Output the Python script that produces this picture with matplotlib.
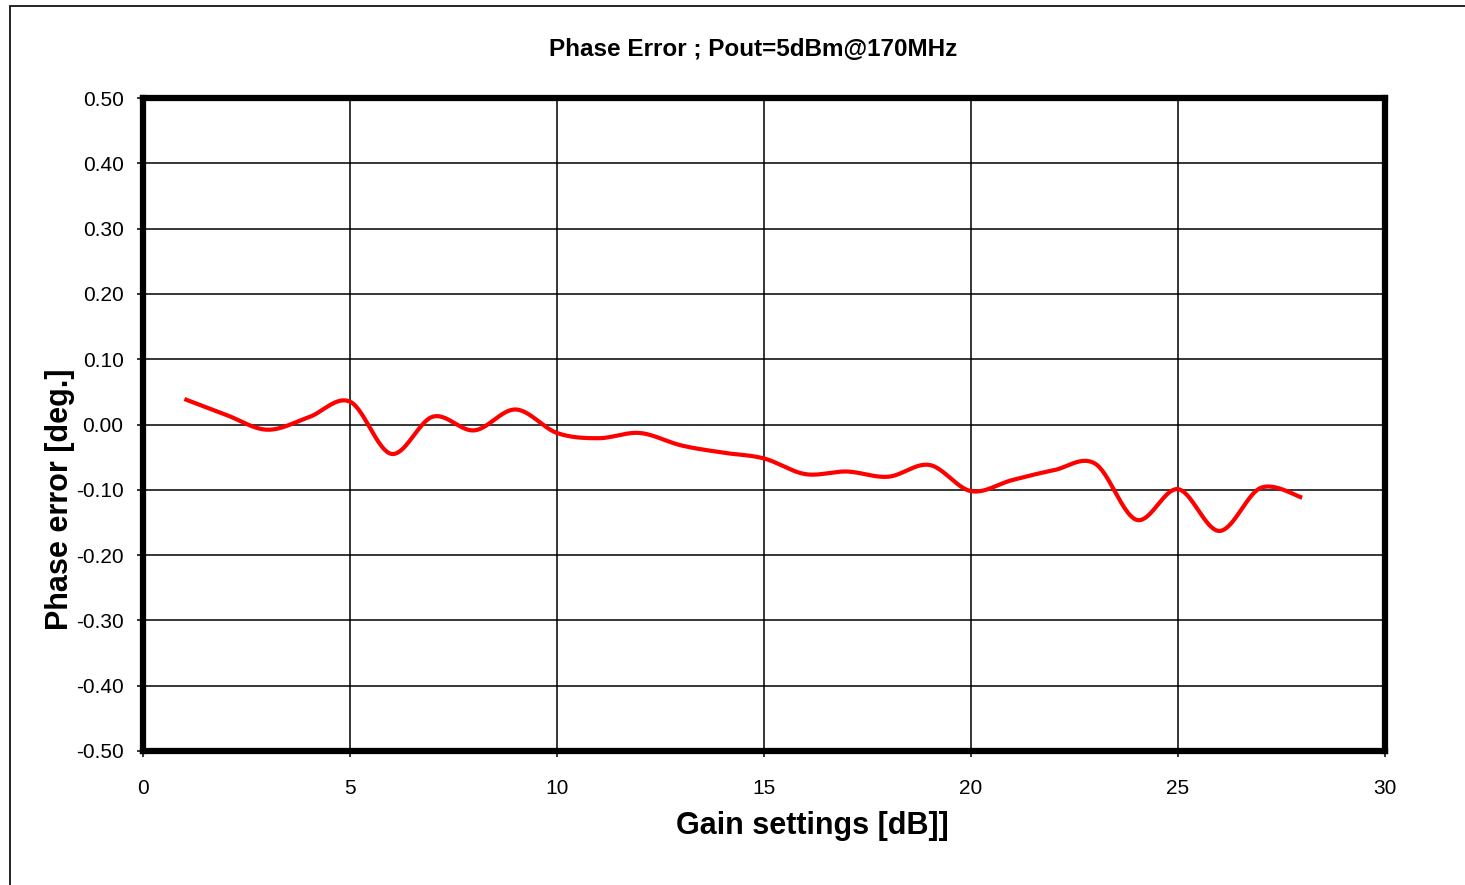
import matplotlib
matplotlib.use("Agg")
import matplotlib.pyplot as plt
from matplotlib.patches import Rectangle
import numpy as np

plt.rcParams["font.family"] = ["Liberation Sans", "DejaVu Sans"]

# Gain setting (dB) vs. measured phase error (deg)
gain_db = [1, 2, 3, 4, 5, 6, 7, 8, 9, 10, 11, 12, 13, 14,
           15, 16, 17, 18, 19, 20, 21, 22, 23, 24, 25, 26, 27, 28]
phase_err = [0.039, 0.015, -0.008, 0.011, 0.035, -0.045, 0.012, -0.009,
             0.023, -0.013, -0.021, -0.013, -0.032, -0.043, -0.052, -0.076,
             -0.072, -0.080, -0.062, -0.102, -0.085, -0.070, -0.060, -0.146,
             -0.099, -0.163, -0.097, -0.112]

x_ticks = [0, 5, 10, 15, 20, 25, 30]
y_ticks = [0.5, 0.4, 0.3, 0.2, 0.1, 0.0, -0.1, -0.2, -0.3, -0.4, -0.5]


def smooth_curve(xs, ys, n=40):
    """Catmull-Rom style bezier through every point (spreadsheet 'smoothed line')."""
    p = np.column_stack([xs, ys]).astype(float)
    ext = np.vstack([p[0], p, p[-1]])
    t = np.linspace(0, 1, n)[:, None]
    segs = []
    for i in range(1, len(ext) - 2):
        p0, p1, p2, p3 = ext[i - 1], ext[i], ext[i + 1], ext[i + 2]
        c1 = p1 + (p2 - p0) / 6
        c2 = p2 - (p3 - p1) / 6
        seg = ((1 - t) ** 3) * p1 + 3 * ((1 - t) ** 2) * t * c1 \
            + 3 * (1 - t) * t ** 2 * c2 + t ** 3 * p2
        segs.append(seg if i == 1 else seg[1:])
    out = np.vstack(segs)
    return out[:, 0], out[:, 1]


fig = plt.figure(figsize=(14.65, 8.85), dpi=100)
ax = fig.add_axes([143 / 1465, 1 - 751 / 885, (1385 - 143) / 1465, (751 - 98) / 885])

# outer chart-area border (runs off the right and bottom edges)
fig.patches.append(Rectangle((10 / 1465, -0.2), 1.5, 1.2 - 5.5 / 885,
                             transform=fig.transFigure, fill=False,
                             edgecolor="black", linewidth=1.2))

sx, sy = smooth_curve(gain_db, phase_err)
ax.plot(sx, sy, color="#ff0000", linewidth=3.0, solid_capstyle="butt", zorder=3)

ax.set_xlim(0, 30)
ax.set_ylim(-0.5, 0.5)
ax.set_xticks(x_ticks)
ax.set_xticklabels([str(v) for v in x_ticks])
ax.set_yticks(y_ticks)
ax.set_yticklabels([f"{v:.2f}" for v in y_ticks])
ax.grid(True, color="black", linewidth=1.1)
ax.set_axisbelow(True)

for s in ax.spines.values():
    s.set_linewidth(4.5)
    s.set_zorder(4)
ax.tick_params(axis="both", direction="out", length=4, width=1.1,
               labelsize=15, color="black")
ax.tick_params(axis="y", pad=10)
ax.tick_params(axis="x", pad=16)

fig.text(753 / 1465, 1 - 50 / 885, "Phase Error ; Pout=5dBm@170MHz",
         ha="center", va="center", fontsize=17.5, fontweight="bold")
fig.text(812 / 1465, 1 - 826 / 885, "Gain settings [dB]]",
         ha="center", va="center", fontsize=22, fontweight="bold")
fig.text(60 / 1465, 1 - 499 / 885, "Phase error [deg.]",
         ha="center", va="center", rotation=90, fontsize=22, fontweight="bold")

fig.savefig("out.png", dpi=100, facecolor="white")
